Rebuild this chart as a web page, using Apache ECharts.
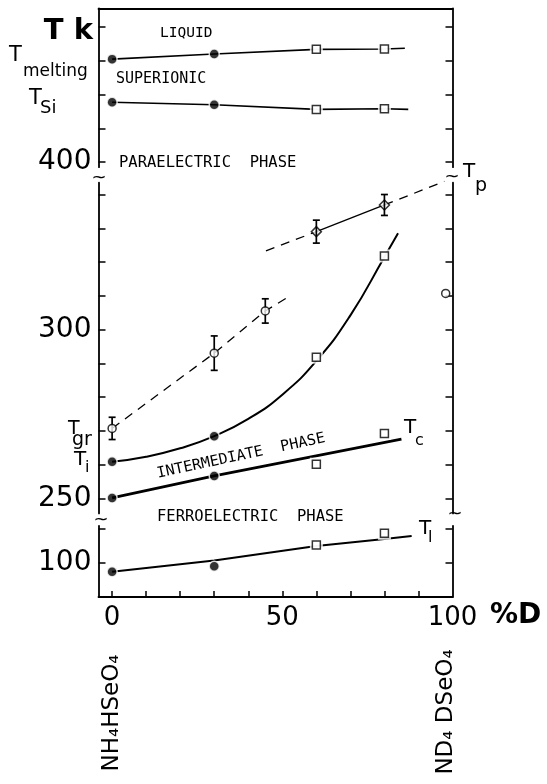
<!DOCTYPE html>
<html>
<head>
<meta charset="utf-8">
<script src="https://cdn.jsdelivr.net/npm/echarts@6/dist/echarts.min.js"></script>
<style>
  html, body { margin: 0; padding: 0; background: #fff; }
  #chart { width: 547px; height: 784px; }
</style>
</head>
<body>
<div id="chart"></div>
<script>
// Phase diagram of mixed NH4HSeO4 – ND4DSeO4 crystals:
// transition temperatures (K) against deuteration (%D), on a broken temperature axis.

// compositions of the measured crystals, %D
const samplesD = [0, 30, 60, 80];

// upper panel: melting and superionic transitions
const tMelting    = [430.5, 432.0, 433.4, 433.5];
const tMeltingEnd = [86, 433.7];
const tSi         = [417.7, 417.0, 415.6, 415.8];
const tSiEnd      = [87, 415.6];

// middle panel: incommensurate (Ti) and ferroelectric (Tc) transitions
const tI       = [260.8, 268.4, 291.8, 321.8];
const tICurveD = [0, 10, 20, 30, 40, 50, 60, 70, 80, 84];
const tICurve  = [260.8, 262.3, 264.8, 268.4, 273.5, 280.7, 290.7, 304.2, 321.5, 328.5];
const tC       = [250.1, 256.6, 260.1, 269.2];
const tCFitD   = [0, 30, 85];
const tCFit    = [250.1, 256.6, 267.5];

// middle panel: glass-like (Tgr) and Tp anomalies with error bars
const tGrD       = [0, 30, 45];
const tGr        = [270.7, 293.0, 305.5];
const tGrErr     = [3.3, 5.1, 3.6];
const tGrLineEnd = [51.5, 309.5];
const tPD         = [60, 80];
const tP          = [329.0, 336.9];
const tPErr       = [3.4, 3.1];
const tPLineStart = [45.2, 323.3];
const tPLineEnd   = [97.6, 343.9];
const tPPure      = [98, 310.7];

// lower panel: low-temperature transition Tl
const tL      = [97.2, 98.8, 105.1, 108.6];
const tLLineD = [0, 30, 60, 80, 88];
const tLLine  = [97.2, 100.5, 104.8, 106.9, 107.8];

// ticks and tick labels
const xTicks    = [0, 10, 20, 30, 40, 50, 60, 70, 80, 90];
const xLabels   = [0, 50, 100];
const topTicks  = [400, 410, 420, 430, 440];
const topLabels = [400];
const midTicks  = [250, 260, 270, 280, 290, 300, 310, 320, 330, 340];
const midLabels = [250, 300];
const lowTicks  = [100, 110];
const lowLabels = [100];

// ---- layout of the three panels of the broken axis (same K-per-pixel scale) ----
const PX_PER_K = 3.375;
const GRID_LEFT = 98.5, GRID_WIDTH = 354;
const panels = [
  { min: 398.5, max: 445.5, top: 8.5 },
  { min: 245.5, max: 343.5, top: 182.7 },
  { min: 89.7,  max: 110.8, top: 525.85 }
];
const X_MIN = -4, X_MAX = 100;
const FONT = '"DejaVu Sans"';
const MONO = '"DejaVu Sans Mono"';
const INK = '#000';

const pairs = (xs, ys) => xs.map((x, i) => [x, ys[i]]);

const grids = panels.map(p => ({
  left: GRID_LEFT, width: GRID_WIDTH, top: p.top,
  height: (p.max - p.min) * PX_PER_K, containLabel: false
}));

const panelTicks  = [topTicks, midTicks, lowTicks];
const panelLabels = [topLabels, midLabels, lowLabels];

const yAxes = [];
panels.forEach((p, g) => {
  ['left', 'right'].forEach(pos => {
    yAxes.push({
      type: 'value', gridIndex: g, position: pos, min: p.min, max: p.max,
      axisLine: { show: true, onZero: false, lineStyle: { color: INK, width: 1.8 } },
      axisTick: { show: true, inside: true, length: 7, customValues: panelTicks[g],
                  lineStyle: { color: INK, width: 1.5 } },
      axisLabel: pos === 'left'
        ? { show: true, customValues: panelLabels[g], fontSize: 28, fontFamily: FONT,
            color: INK, margin: 7 }
        : { show: false },
      splitLine: { show: false }
    });
  });
});

const xAxes = [
  { type: 'value', gridIndex: 0, position: 'top', min: X_MIN, max: X_MAX,
    axisLine: { show: true, onZero: false, lineStyle: { color: INK, width: 1.8 } },
    axisTick: { show: false }, axisLabel: { show: false }, splitLine: { show: false } },
  { type: 'value', gridIndex: 1, min: X_MIN, max: X_MAX, show: false,
    axisLine: { onZero: false }, splitLine: { show: false } },
  { type: 'value', gridIndex: 2, position: 'bottom', min: X_MIN, max: X_MAX,
    axisLine: { show: true, onZero: false, lineStyle: { color: INK, width: 1.8 } },
    axisTick: { show: true, inside: true, length: 6, customValues: xTicks,
                lineStyle: { color: INK, width: 1.5 } },
    axisLabel: { show: true, customValues: xLabels, fontSize: 26, fontFamily: FONT,
                 color: INK, margin: 8 },
    splitLine: { show: false } }
];

// axis indices for a panel
const ax = g => ({ xAxisIndex: g, yAxisIndex: g * 2 });

function line(g, data, width, dash, extra) {
  return Object.assign({
    type: 'line', ...ax(g), data, symbol: 'none', silent: true, z: 2,
    lineStyle: { color: INK, width, type: dash ? [9, 7] : 'solid' }
  }, extra || {});
}

// filled dots for 0 and 30 %D crystals, open squares for 60 and 80 %D
function sampleMarkers(g, ys) {
  const pts = pairs(samplesD, ys);
  const dots = pts.filter(p => p[0] < 50);
  const squares = pts.filter(p => p[0] >= 50);
  return [
    { type: 'scatter', ...ax(g), data: squares, symbol: 'rect', symbolSize: 13, z: 4, silent: true,
      itemStyle: { color: '#fff' } },
    { type: 'scatter', ...ax(g), data: squares, symbol: 'rect', symbolSize: 8, z: 5, silent: true,
      itemStyle: { color: '#fff', borderColor: INK, borderWidth: 1.5 } },
    { type: 'scatter', ...ax(g), data: dots, symbol: 'circle', symbolSize: 10, z: 5, silent: true,
      itemStyle: { color: INK, borderColor: '#fff', borderWidth: 1.5 } }
  ];
}

function errorBars(g, xs, ys, errs, z) {
  return {
    type: 'custom', ...ax(g), z, silent: true,
    data: xs.map((x, i) => [x, ys[i], errs[i]]),
    encode: { x: 0, y: 1 },
    renderItem(params, api) {
      const x = api.value(0), y = api.value(1), e = api.value(2);
      const hi = api.coord([x, y + e]);
      const lo = api.coord([x, y - e]);
      const c = 3.5;
      const st = { stroke: INK, lineWidth: 1.7 };
      return {
        type: 'group',
        children: [
          { type: 'line', shape: { x1: hi[0], y1: hi[1], x2: lo[0], y2: lo[1] }, style: st },
          { type: 'line', shape: { x1: hi[0] - c, y1: hi[1], x2: hi[0] + c, y2: hi[1] }, style: st },
          { type: 'line', shape: { x1: lo[0] - c, y1: lo[1], x2: lo[0] + c, y2: lo[1] }, style: st }
        ]
      };
    }
  };
}

const series = [
  // upper panel
  line(0, pairs(samplesD, tMelting).concat([tMeltingEnd]), 1.6),
  line(0, pairs(samplesD, tSi).concat([tSiEnd]), 1.6),
  ...sampleMarkers(0, tMelting),
  ...sampleMarkers(0, tSi),

  // middle panel
  line(1, pairs(tICurveD, tICurve), 2.0, false, { smooth: 0.5 }),
  line(1, pairs(tCFitD, tCFit), 2.8),
  ...sampleMarkers(1, tI),
  ...sampleMarkers(1, tC),

  line(1, pairs(tGrD, tGr).concat([tGrLineEnd]), 1.3, true),
  line(1, [tPLineStart, [tPD[0], tP[0]]], 1.3, true),
  line(1, pairs(tPD, tP), 1.3),
  line(1, [[tPD[1], tP[1]], tPLineEnd], 1.3, true, { clip: false }),

  errorBars(1, tGrD, tGr, tGrErr, 5),
  errorBars(1, tPD, tP, tPErr, 7),
  { type: 'scatter', ...ax(1), data: pairs(tGrD, tGr).concat([tPPure]), symbol: 'circle',
    symbolSize: 8, z: 6, silent: true,
    itemStyle: { color: '#fff', borderColor: INK, borderWidth: 1.5 } },
  { type: 'scatter', ...ax(1), data: pairs(tPD, tP), symbol: 'diamond',
    symbolSize: 10, z: 6, silent: true,
    itemStyle: { color: '#fff', borderColor: INK, borderWidth: 1.5 } },

  // lower panel
  line(2, pairs(tLLineD, tLLine), 2.0),
  ...sampleMarkers(2, tL)
];

// text annotations
function txt(text, x, y, font, opts) {
  const o = opts || {};
  return {
    type: 'text', x, y, rotation: o.rotation || 0, silent: true, z: 10,
    style: {
      text, font, fill: INK,
      textAlign: o.align || 'left', align: o.align || 'left',
      textVerticalAlign: 'middle', verticalAlign: 'middle'
    }
  };
}

const graphic = [
  txt('T k', 93, 31, 'bold 29px ' + FONT, { align: 'right' }),
  txt('T', 9, 56, '21px ' + FONT),
  txt('melting', 23, 72, '17px ' + FONT),
  txt('T', 29, 99, '21px ' + FONT),
  txt('Si', 40, 108, '18px ' + FONT),

  txt('LIQUID', 160, 33, '14.5px ' + MONO),
  txt('SUPERIONIC', 116, 79, '15px ' + MONO),
  txt('PARAELECTRIC  PHASE', 119, 163, '15.5px ' + MONO),
  txt('INTERMEDIATE  PHASE', 241, 456, '15px ' + MONO, { align: 'center', rotation: 12 * Math.PI / 180 }),
  txt('FERROELECTRIC  PHASE', 157, 517, '15.5px ' + MONO),

  txt('T', 68, 429, '19px ' + FONT),
  txt('gr', 72, 440, '19px ' + FONT),
  txt('T', 74, 460, '20px ' + FONT),
  txt('i', 85, 468, '16px ' + FONT),
  txt('T', 404, 428, '20px ' + FONT),
  txt('c', 415, 441, '16px ' + FONT),
  txt('T', 419, 529, '20px ' + FONT),
  txt('l', 428, 538, '16px ' + FONT),
  txt('T', 463, 172, '20px ' + FONT),
  txt('p', 475, 186, '19px ' + FONT),

  txt('~', 99, 178, '18px ' + FONT, { align: 'center' }),
  txt('~', 101, 520, '18px ' + FONT, { align: 'center' }),
  txt('~', 452, 177, '18px ' + FONT, { align: 'center' }),
  txt('~', 455, 514, '18px ' + FONT, { align: 'center' }),

  txt('%D', 490, 616, 'bold 28px ' + FONT),
  txt('NH\u2084HSeO\u2084', 112, 713, '23px ' + FONT, { align: 'center', rotation: Math.PI / 2 }),
  txt('ND\u2084 DSeO\u2084', 446, 712, '23px ' + FONT, { align: 'center', rotation: Math.PI / 2 })
];

const chart = echarts.init(document.getElementById('chart'), null, { renderer: 'canvas' });
chart.setOption({
  animation: false,
  backgroundColor: '#fff',
  grid: grids,
  xAxis: xAxes,
  yAxis: yAxes,
  series,
  graphic
});
</script>
</body>
</html>
